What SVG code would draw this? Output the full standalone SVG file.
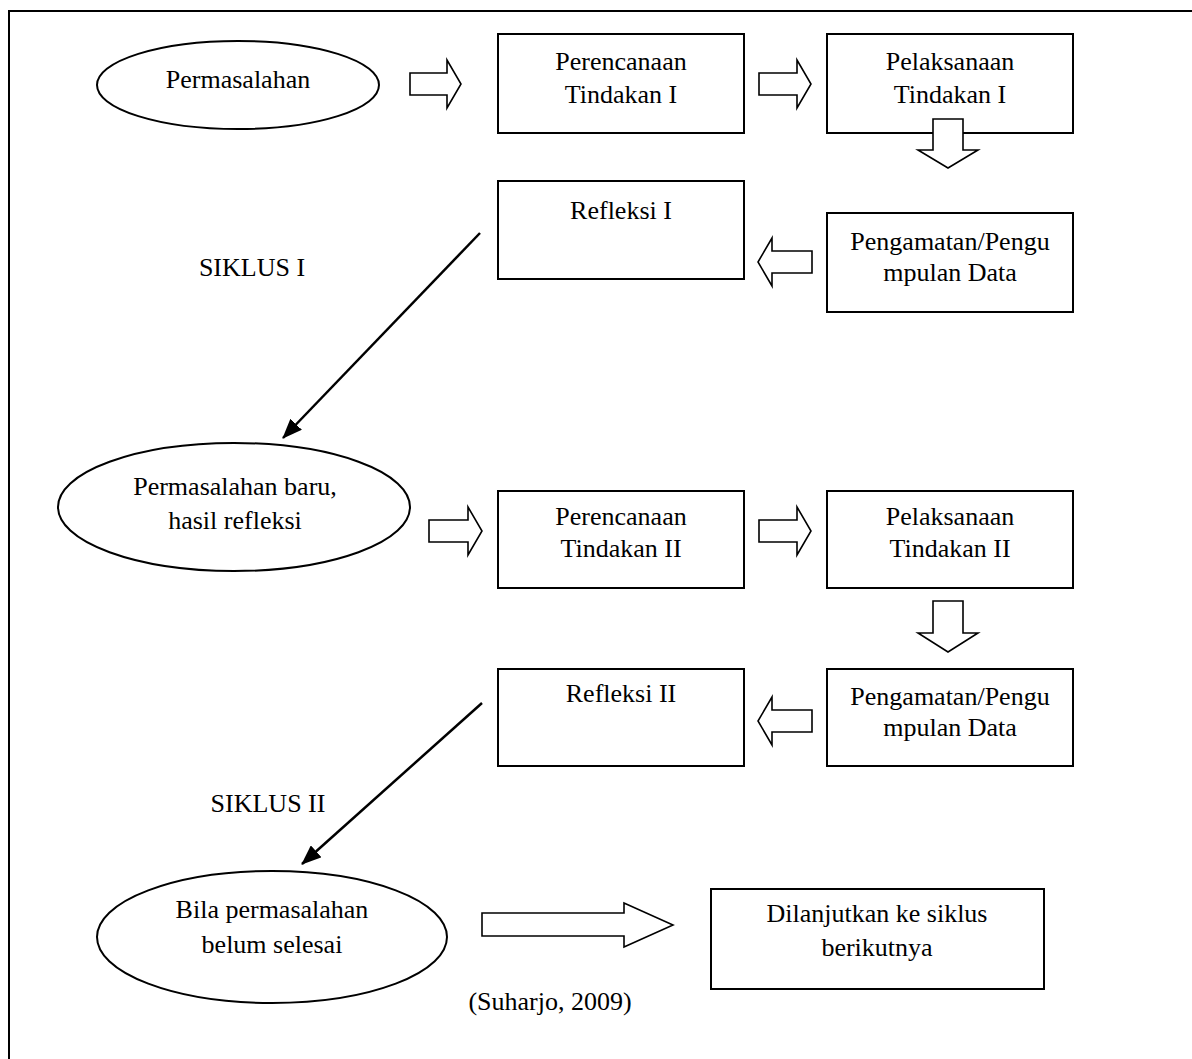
<svg xmlns="http://www.w3.org/2000/svg" width="1192" height="1059" viewBox="0 0 1192 1059">
<style>
.n{fill:#fff;stroke:#000;stroke-width:2}
.b{fill:#fff;stroke:#000;stroke-width:1.6}
.t{font-family:"Liberation Serif","Times New Roman",serif;font-size:26px;fill:#000;text-anchor:middle}
.c{fill:none;stroke:#000;stroke-width:2.5}
</style>
<defs>
<marker id="ah" viewBox="0 0 20 16" refX="19" refY="8" markerWidth="20" markerHeight="16" orient="auto" markerUnits="userSpaceOnUse">
<path d="M0,0 L20,8 L0,16 Z" fill="#000"/>
</marker>
</defs>
<rect width="1192" height="1059" fill="#fff"/>
<path d="M9,1059 V11 H1192" fill="none" stroke="#000" stroke-width="2"/>

<g id="e1"><ellipse class="n" cx="238" cy="85" rx="141" ry="44"/><text class="t" x="238" y="88">Permasalahan</text></g>
<g id="b1"><rect class="n" x="498" y="34" width="246" height="99"/><text class="t" x="621" y="70">Perencanaan</text><text class="t" x="621" y="103">Tindakan I</text></g>
<g id="b2"><rect class="n" x="827" y="34" width="246" height="99"/><text class="t" x="950" y="70">Pelaksanaan</text><text class="t" x="950" y="103">Tindakan I</text></g>
<g id="b3"><rect class="n" x="498" y="181" width="246" height="98"/><text class="t" x="621" y="219">Refleksi I</text></g>
<g id="b4"><rect class="n" x="827" y="213" width="246" height="99"/><text class="t" x="950" y="250">Pengamatan/Pengu</text><text class="t" x="950" y="281">mpulan Data</text></g>
<g id="e2"><ellipse class="n" cx="234" cy="507" rx="176" ry="64"/><text class="t" x="235" y="495">Permasalahan baru,</text><text class="t" x="235" y="529">hasil refleksi</text></g>
<g id="b5"><rect class="n" x="498" y="491" width="246" height="97"/><text class="t" x="621" y="525">Perencanaan</text><text class="t" x="621" y="557">Tindakan II</text></g>
<g id="b6"><rect class="n" x="827" y="491" width="246" height="97"/><text class="t" x="950" y="525">Pelaksanaan</text><text class="t" x="950" y="557">Tindakan II</text></g>
<g id="b7"><rect class="n" x="498" y="669" width="246" height="97"/><text class="t" x="621" y="702">Refleksi II</text></g>
<g id="b8"><rect class="n" x="827" y="669" width="246" height="97"/><text class="t" x="950" y="705">Pengamatan/Pengu</text><text class="t" x="950" y="736">mpulan Data</text></g>
<g id="e3"><ellipse class="n" cx="272" cy="937" rx="175" ry="66"/><text class="t" x="272" y="918">Bila permasalahan</text><text class="t" x="272" y="953">belum selesai</text></g>
<g id="b9"><rect class="n" x="711" y="889" width="333" height="100"/><text class="t" x="877" y="922">Dilanjutkan ke siklus</text><text class="t" x="877" y="956">berikutnya</text></g>

<g id="connectors">
<path class="b" d="M410,73 H447 V60 L461,84 L447,108 V95 H410 Z"/>
<path class="b" d="M759,73 H797 V60 L811,84 L797,108 V95 H759 Z"/>
<path class="b" d="M933,119 V150 H918 L948,168 L978,150 H963 V119 Z"/>
<path class="b" d="M812,251 H772 V238 L758,262 L772,286 V273 H812 Z"/>
<line class="c" x1="480" y1="233" x2="283" y2="438" marker-end="url(#ah)"/>
<path class="b" d="M429,520 H468 V507 L482,531 L468,555 V542 H429 Z"/>
<path class="b" d="M759,520 H797 V507 L811,531 L797,555 V542 H759 Z"/>
<path class="b" d="M933,601 V633 H918 L948,652 L978,633 H963 V601 Z"/>
<path class="b" d="M812,710 H772 V697 L758,721 L772,745 V732 H812 Z"/>
<line class="c" x1="482" y1="703" x2="302" y2="864" marker-end="url(#ah)"/>
<path class="b" d="M482,913 H624 V903 L673,925 L624,947 V936 H482 Z"/>
</g>
<text class="t" x="252" y="276">SIKLUS I</text>
<text class="t" x="268" y="812">SIKLUS II</text>
<text class="t" x="550" y="1010">(Suharjo, 2009)</text>
</svg>
